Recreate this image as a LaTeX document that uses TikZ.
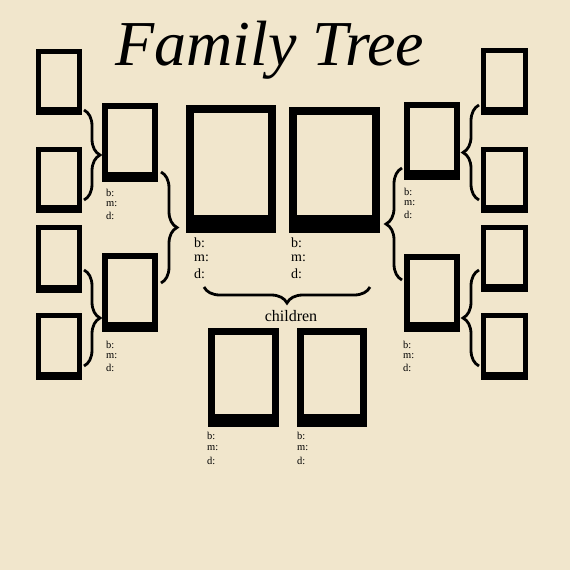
\documentclass[tikz,border=0pt]{standalone}
\usepackage{fontspec}
\setmainfont{Liberation Serif}
\usetikzlibrary{decorations.pathreplacing}
\definecolor{paper}{HTML}{F1E6CC}
\tikzset{
  br/.style={decorate,decoration={brace,amplitude=16pt},line width=2.8pt,black},
  lab/.style={font=\fontsize{14}{14}\selectfont,anchor=west,inner sep=0pt,align=left},
  labs/.style={font=\fontsize{10.5}{10.5}\selectfont,anchor=west,inner sep=0pt},
}
% frame: x1,y1,x2,y2,side,bottom
\newcommand\frm[6]{%
  \fill[black] (#1,#2) rectangle (#3,#4);
  \fill[paper] (#1+#5,#2+#5) rectangle (#3-#5,#4-#6);}
\newcommand\bmd[4]{% x, y, step, style
  \node[#4] at (#1,#2) {b:};
  \node[#4] at (#1,#2+#3) {m:};
  \node[#4] at (#1,#2+2*#3) {d:};}
\begin{document}
\begin{tikzpicture}[x=1pt,y=-1pt]
\fill[paper] (0,0) rectangle (570,570);
\useasboundingbox (0,0) rectangle (570,570);
\node[font=\fontsize{64}{64}\selectfont\itshape] (title) at (270,50) {Family Tree};
% left column
\frm{36}{49}{82}{115}{5}{8}
\frm{36}{147}{82}{213}{5}{8}
\frm{36}{225}{82}{293}{5}{8}
\frm{36}{313}{82}{380}{5}{8}
% right column
\frm{481}{48}{528}{115}{5}{8}
\frm{481}{147}{528}{213}{5}{8}
\frm{481}{225}{528}{292}{5}{8}
\frm{481}{313}{528}{380}{5}{8}
% second columns
\frm{102}{103}{158}{182}{6}{10}
\frm{102}{253}{158}{332}{6}{10}
\frm{404}{102}{460}{180}{6}{10}
\frm{404}{254}{460}{332}{6}{10}
% big
\frm{186}{105}{276}{233}{8}{18}
\frm{289}{107}{380}{233}{8}{18}
% children
\frm{208}{328}{279}{427}{7}{13}
\frm{297}{328}{367}{427}{7}{13}
% labels
\bmd{106}{193}{11.5}{labs}
\bmd{106}{345}{11.5}{labs}
\bmd{404}{192}{11.5}{labs}
\bmd{403}{345}{11.5}{labs}
\bmd{194}{243}{15.5}{lab}
\bmd{291}{243}{15.5}{lab}
\bmd{207}{436}{12.5}{labs}
\bmd{297}{436}{12.5}{labs}
% braces
\coordinate (l1a) at (84,110); \coordinate (l1b) at (84,200);
\coordinate (l2a) at (84,270); \coordinate (l2b) at (84,366);
\coordinate (l3a) at (161,172); \coordinate (l3b) at (161,283);
\coordinate (r1a) at (479,105); \coordinate (r1b) at (479,200);
\coordinate (r2a) at (479,270); \coordinate (r2b) at (479,366);
\coordinate (r3a) at (402,168); \coordinate (r3b) at (402,280);
\coordinate (ca) at (204,287); \coordinate (cb) at (370,287);
\draw[br] (l1a) -- (l1b);
\draw[br] (l2a) -- (l2b);
\draw[br] (l3a) -- (l3b);
\draw[br] (r1b) -- (r1a);
\draw[br] (r2b) -- (r2a);
\draw[br] (r3b) -- (r3a);
\draw[br] (cb) -- (ca);
\node[font=\fontsize{16}{16}\selectfont] (ch) at (291,316) {children};
\end{tikzpicture}
\end{document}
